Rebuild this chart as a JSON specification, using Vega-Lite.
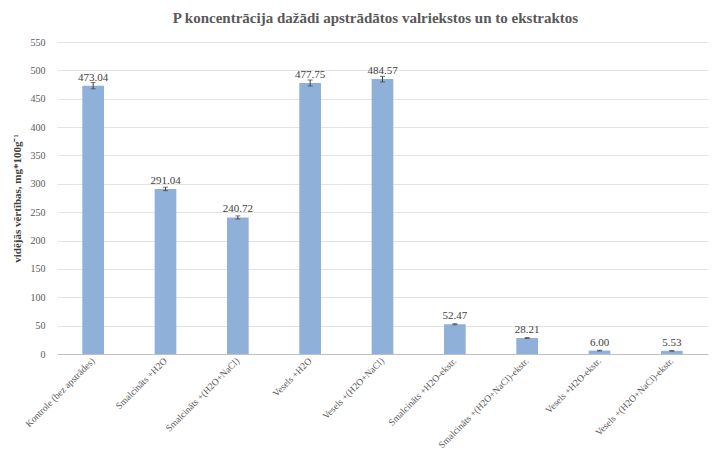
{
  "$schema": "https://vega.github.io/schema/vega-lite/v6.json",
  "width": 651,
  "height": 312,
  "autosize": "none",
  "padding": {"left": 57, "top": 42, "right": 12, "bottom": 97},
  "background": "white",
  "title": {
    "text": "P koncentrācija dažādi apstrādātos valriekstos un to ekstraktos",
    "font": "Liberation Serif",
    "fontSize": 15,
    "fontWeight": "bold",
    "color": "#595959",
    "anchor": "middle",
    "dx": -7,
    "offset": 11
  },
  "data": {
    "values": [
      {"k": "Kontrole (bez apstrādes)", "v": 473.04, "lo": 467.5, "hi": 478.5},
      {"k": "Smalcināts +H2O", "v": 291.04, "lo": 288.0, "hi": 294.0},
      {"k": "Smalcināts +(H2O+NaCl)", "v": 240.72, "lo": 238.0, "hi": 243.5},
      {"k": "Vesels +H2O", "v": 477.75, "lo": 472.5, "hi": 483.0},
      {"k": "Vesels +(H2O+NaCl)", "v": 484.57, "lo": 479.5, "hi": 489.5},
      {"k": "Smalcināts +H2O-ekstr.", "v": 52.47, "lo": 51.5, "hi": 53.4},
      {"k": "Smalcināts +(H2O+NaCl)-ekstr.", "v": 28.21, "lo": 27.3, "hi": 29.1},
      {"k": "Vesels +H2O-ekstr.", "v": 6.0, "lo": 5.4, "hi": 6.6},
      {"k": "Vesels +(H2O+NaCl)-ekstr.", "v": 5.53, "lo": 5.0, "hi": 6.1}
    ]
  },
  "encoding": {
    "x": {
      "field": "k",
      "type": "nominal",
      "sort": null,
      "scale": {"paddingInner": 0.7, "paddingOuter": 0.35},
      "axis": {
        "title": null,
        "labelAngle": -45,
        "labelAlign": "right",
        "labelBaseline": "middle",
        "labelFont": "Liberation Serif",
        "labelFontSize": 9.5,
        "labelColor": "#595959",
        "labelPadding": 5,
        "ticks": false,
        "domainColor": "#bfbfbf",
        "labelLimit": 300
      }
    }
  },
  "layer": [
    {
      "mark": {"type": "bar", "color": "#8fb1d9"},
      "encoding": {
        "y": {
          "field": "v",
          "type": "quantitative",
          "scale": {"domain": [0, 550], "nice": false},
          "title": "vidējās vērtības, mg*100g⁻¹",
          "axis": {"values": [0, 50, 100, 150, 200, 250, 300, 350, 400, 450, 500, 550], "labelFont": "Liberation Serif", "titleFont": "Liberation Serif"}
        }
      }
    },
    {
      "mark": {"type": "errorbar", "ticks": {"size": 5}, "color": "#404040", "thickness": 1},
      "encoding": {
        "y": {"field": "lo", "type": "quantitative", "title": "vidējās vērtības, mg*100g⁻¹", "axis": {"values": [0, 50, 100, 150, 200, 250, 300, 350, 400, 450, 500, 550], "labelFont": "Liberation Serif", "titleFont": "Liberation Serif"}},
        "y2": {"field": "hi"}
      }
    },
    {
      "mark": {"type": "text", "baseline": "bottom", "dy": -3, "font": "Liberation Serif", "fontSize": 11, "color": "#404040"},
      "encoding": {
        "y": {"field": "v", "type": "quantitative", "title": "vidējās vērtības, mg*100g⁻¹", "axis": {"values": [0, 50, 100, 150, 200, 250, 300, 350, 400, 450, 500, 550], "labelFont": "Liberation Serif", "titleFont": "Liberation Serif"}},
        "text": {"field": "v", "type": "quantitative", "format": ".2f"}
      }
    }
  ],
  "config": {
    "view": {"stroke": null},
    "axisY": {
      "labelOverlap": false,
      "titleFont": "Liberation Serif",
      "titleFontSize": 11,
      "titleFontWeight": "bold",
      "titleColor": "#404040",
      "titlePadding": 8,
      "labelFont": "Liberation Serif",
      "labelFontSize": 10,
      "labelColor": "#595959",
      "labelPadding": 12,
      "ticks": false,
      "domain": false,
      "gridColor": "#e3e3e3"
    }
  }
}
